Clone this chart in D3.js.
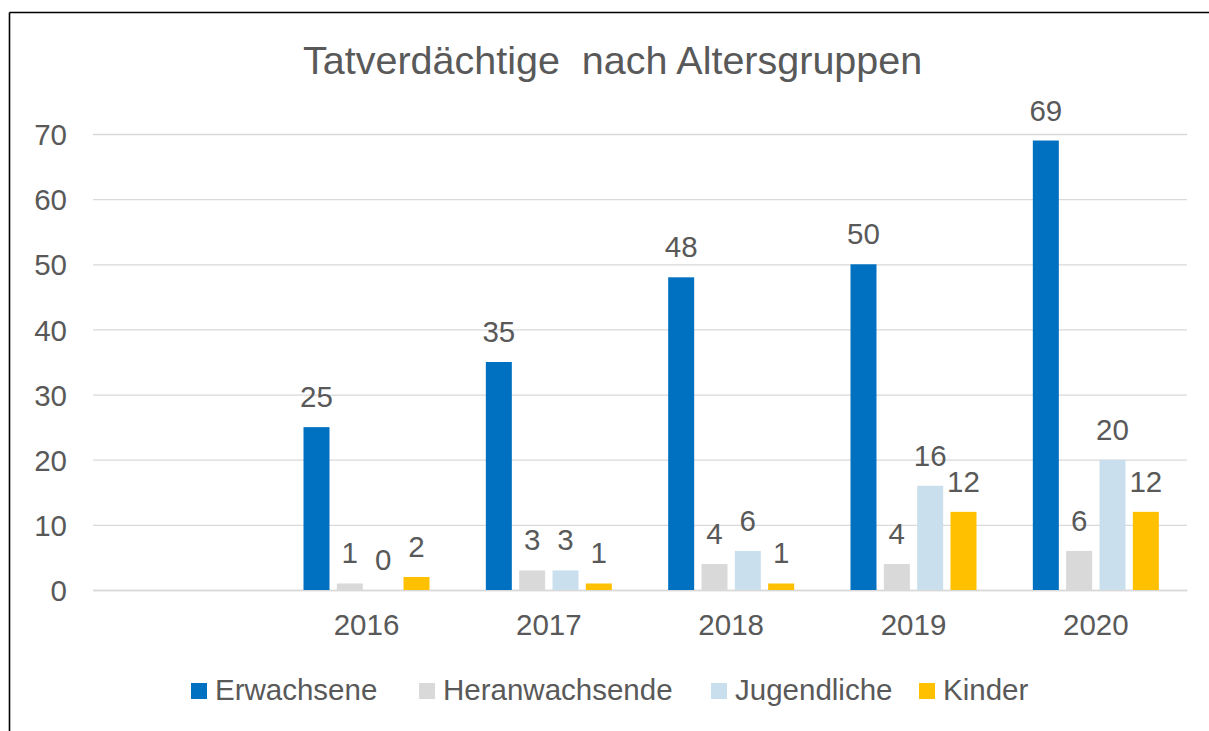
<!DOCTYPE html>
<html>
<head>
<meta charset="utf-8">
<script src="https://cdn.jsdelivr.net/npm/d3@7"></script>
<style>
  html, body { margin: 0; padding: 0; background: #fff; }
  svg { display: block; }
  text { font-family: "Liberation Sans", Arial, sans-serif; fill: #595959; }
</style>
</head>
<body>
<svg id="chart" width="1209" height="731"></svg>
<script>
const title = "Tatverdächtige  nach Altersgruppen";
const categories = ["", "2016", "2017", "2018", "2019", "2020"];
const seriesNames = ["Erwachsene", "Heranwachsende", "Jugendliche", "Kinder"];
const seriesColors = ["#0070C0", "#D9D9D9", "#C9DFEE", "#FFC000"];
const erwachsene     = [null, 25, 35, 48, 50, 69];
const heranwachsende = [null, 1, 3, 4, 4, 6];
const jugendliche    = [null, 0, 3, 6, 16, 20];
const kinder         = [null, 2, 1, 1, 12, 12];
const yTicks = [0, 10, 20, 30, 40, 50, 60, 70];

const seriesValues = [erwachsene, heranwachsende, jugendliche, kinder];

const svg = d3.select("#chart");
const W = 1209, H = 731;
const plot = { left: 93, right: 1187, top: 134, bottom: 590 };
const FS = "29.5px";

// frame (top and left lines)
svg.append("line").attr("x1", 9.5).attr("x2", W).attr("y1", 12.5).attr("y2", 12.5)
  .attr("stroke", "#000").attr("stroke-width", 1.6);
svg.append("line").attr("x1", 9.5).attr("x2", 9.5).attr("y1", 12.5).attr("y2", H)
  .attr("stroke", "#000").attr("stroke-width", 1.6);

// title
svg.append("text").attr("x", 303).attr("y", 74).attr("text-anchor", "start")
  .style("font-size", "39.5px").style("white-space", "pre").text(title);

const y = d3.scaleLinear().domain([0, 70]).range([plot.bottom, plot.top]);
const x0 = d3.scaleBand().domain(categories).range([plot.left, plot.right]).padding(0);
const groupW = 126;
const x1 = d3.scaleBand().domain(seriesNames).range([0, groupW]).paddingInner(0.22).paddingOuter(0);

// gridlines
const yAxis = d3.axisLeft(y).tickValues(yTicks).tickSize(-(plot.right - plot.left)).tickPadding(26);
const gy = svg.append("g").attr("transform", `translate(${plot.left},0)`).call(yAxis);
gy.select(".domain").remove();
gy.selectAll(".tick line").attr("stroke", "#D9D9D9").attr("stroke-width", 1.3);
gy.selectAll(".tick text").style("font-size", FS).attr("fill", "#595959").attr("dy", "0.36em");

// x axis
const xAxis = d3.axisBottom(x0).tickSize(0).tickPadding(24);
const gx = svg.append("g").attr("transform", `translate(0,${plot.bottom})`).call(xAxis);
gx.select(".domain").attr("stroke", "#D9D9D9").attr("stroke-width", 1.3);
gx.selectAll(".tick text").style("font-size", FS).attr("fill", "#595959");

// bars
const data = [];
categories.forEach((c, i) => {
  seriesNames.forEach((s, j) => {
    const v = seriesValues[j][i];
    if (v !== null) data.push({ cat: c, series: s, value: v, color: seriesColors[j] });
  });
});
const gx0 = c => x0(c) + (x0.bandwidth() - groupW) / 2;

svg.append("g").selectAll("rect").data(data).join("rect")
  .attr("x", d => gx0(d.cat) + x1(d.series))
  .attr("y", d => y(d.value))
  .attr("width", x1.bandwidth())
  .attr("height", d => y(0) - y(d.value))
  .attr("fill", d => d.color);

svg.append("g").selectAll("text").data(data).join("text")
  .attr("x", d => gx0(d.cat) + x1(d.series) + x1.bandwidth() / 2)
  .attr("y", d => y(d.value) - 20)
  .attr("text-anchor", "middle")
  .style("font-size", FS)
  .text(d => d.value);

// legend
const legendX = [191, 419, 711, 919];
const lg = svg.append("g");
seriesNames.forEach((s, j) => {
  lg.append("rect").attr("x", legendX[j]).attr("y", 683).attr("width", 16).attr("height", 16)
    .attr("fill", seriesColors[j]);
  lg.append("text").attr("x", legendX[j] + 24).attr("y", 700).style("font-size", FS).text(s);
});
</script>
</body>
</html>
